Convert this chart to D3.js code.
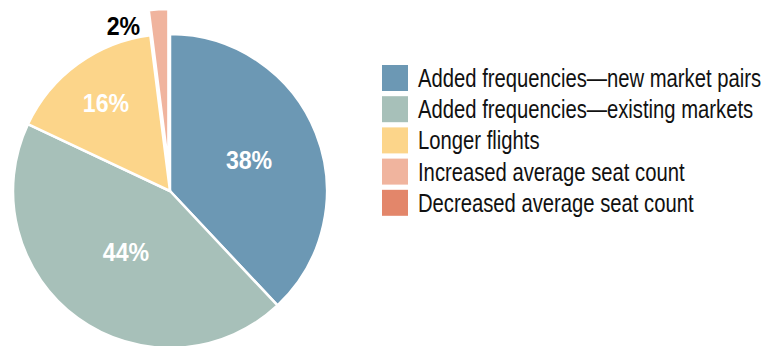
<!DOCTYPE html>
<html>
<head>
<meta charset="utf-8">
<script src="https://cdn.jsdelivr.net/npm/d3@7"></script>
<style>
  html, body { margin: 0; padding: 0; background: #ffffff; }
  svg { display: block; }
  text { font-family: "Liberation Sans", Arial, sans-serif; }
</style>
</head>
<body>
<svg id="chart" width="778" height="346"></svg>
<script>
// Share of growth by source
const categories = [
  "Added frequencies\u2014new market pairs",
  "Added frequencies\u2014existing markets",
  "Longer flights",
  "Increased average seat count",
  "Decreased average seat count"
];
const shares = [38, 44, 16, 2, 0];
const sliceLabels = ["38%", "44%", "16%", "2%", ""];
const colors = ["#6c98b4", "#a7c0b9", "#fcd58a", "#f0b49e", "#e3866a"];

const width = 778, height = 346;
const cx = 170, cy = 191, radius = 157;

const svg = d3.select("#chart");
const g = svg.append("g").attr("transform", `translate(${cx},${cy})`);

const pie = d3.pie().sort(null).value(d => d.value);
const arcs = pie(categories.map((c, i) => ({ name: c, value: shares[i], label: sliceLabels[i], color: colors[i] })));

const arc = d3.arc().innerRadius(0).outerRadius(radius);

// the small slice is pulled out from the pie
const explodeIndex = 3, explodeDist = 25;
function offset(d, i) {
  if (i !== explodeIndex) return "translate(0,0)";
  const a = (d.startAngle + d.endAngle) / 2;
  return `translate(${Math.sin(a) * explodeDist},${-Math.cos(a) * explodeDist})`;
}

g.selectAll("path.slice")
  .data(arcs.filter(d => d.value > 0))
  .join("path")
  .attr("class", "slice")
  .attr("d", arc)
  .attr("transform", (d) => offset(d, d.index))
  .attr("fill", d => d.data.color)
  .attr("stroke", "#ffffff")
  .attr("stroke-width", 2.5)
  .attr("stroke-linejoin", "round");

// condensed bold value label
function valueLabel(x, y, txt, fill, anchor) {
  g.append("text")
    .attr("transform", `translate(${x},${y}) scale(0.89,1)`)
    .attr("dy", "0.36em")
    .attr("text-anchor", anchor)
    .attr("fill", fill)
    .attr("font-weight", "bold")
    .attr("font-size", 26)
    .text(txt);
}

// labels inside the larger slices
const labelRadii = [85, 75, 109];
arcs.slice(0, 3).forEach((d, i) => {
  const la = d3.arc().innerRadius(labelRadii[i]).outerRadius(labelRadii[i]);
  const [x, y] = la.centroid(d);
  valueLabel(x, y, d.data.label, "#ffffff", "middle");
});

// label beside the pulled-out slice
{
  const d = arcs[explodeIndex];
  const r = radius + explodeDist;
  const x = Math.sin(d.startAngle) * r - 7;
  const y = -Math.cos(d.startAngle) * r + 15;
  valueLabel(x, y, d.data.label, "#000000", "end");
}

// legend
const legend = svg.append("g").attr("transform", "translate(382,65)");
const rowStep = 31.2, box = 26;
const rows = legend.selectAll("g.row")
  .data(categories)
  .join("g")
  .attr("class", "row")
  .attr("transform", (d, i) => `translate(0,${i * rowStep})`);
rows.append("rect")
  .attr("width", box)
  .attr("height", box)
  .attr("fill", (d, i) => colors[i]);
rows.append("text")
  .attr("transform", `translate(36,${box / 2}) scale(0.81,1)`)
  .attr("dy", "0.36em")
  .attr("font-size", 25)
  .attr("fill", "#111111")
  .text(d => d);
</script>
</body>
</html>
